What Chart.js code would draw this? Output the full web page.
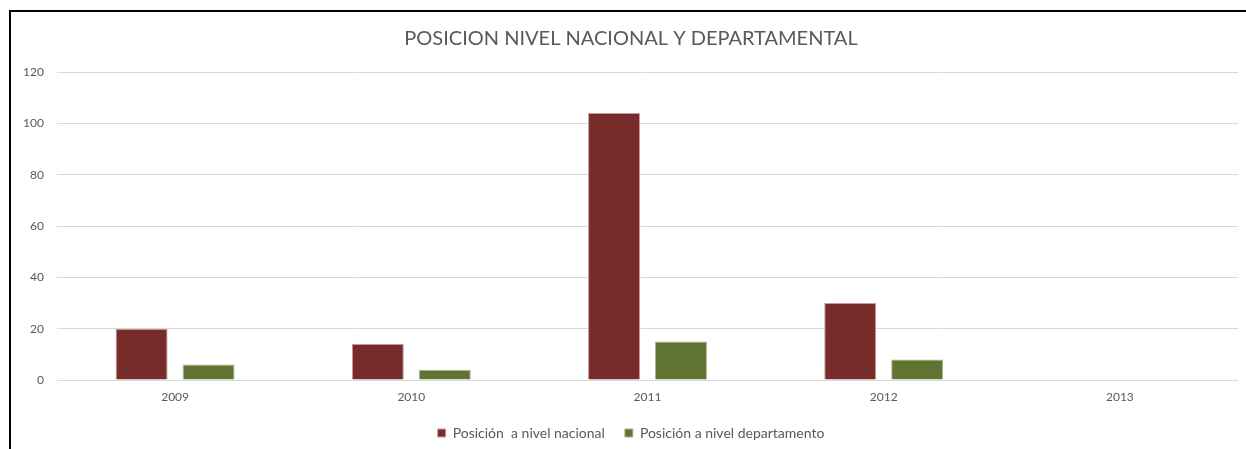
<!DOCTYPE html>
<html>
<head>
<meta charset="utf-8">
<script src="https://cdn.jsdelivr.net/npm/chart.js@4/dist/chart.umd.min.js"></script>
<style>
  html, body { margin: 0; padding: 0; background: #fff; }
  #wrap { position: relative; width: 1246px; height: 449px; }
  #frame {
    position: absolute; left: 9px; top: 10px; right: 0; bottom: 0;
    border-top: 2px solid #000; border-left: 2px solid #000;
    pointer-events: none;
  }
  canvas { position: absolute; left: 0; top: 0; }
</style>
</head>
<body>
<div id="wrap">
  <canvas id="chart" width="1246" height="449"></canvas>
  <div id="frame"></div>
</div>
<script>
const years        = ['2009', '2010', '2011', '2012', '2013'];
const nacional     = [20, 14, 104, 30, 0];
const departamento = [6, 4, 15, 8, 0];
const yTicks       = [0, 20, 40, 60, 80, 100, 120];

const textColor = '#595959';
const gridColor = '#d9d9d9';

new Chart(document.getElementById('chart'), {
  type: 'bar',
  data: {
    labels: years,
    datasets: [
      {
        label: 'Posición  a nivel nacional',
        data: nacional,
        backgroundColor: '#772b2b',
        borderColor: '#c89a9a',
        borderWidth: 1,
      },
      {
        label: 'Posición a nivel departamento',
        data: departamento,
        backgroundColor: '#617330',
        borderColor: '#a9b78a',
        borderWidth: 1,
      },
    ],
  },
  options: {
    responsive: false,
    animation: false,
    categoryPercentage: 0.567,
    barPercentage: 0.776,
    layout: { padding: { left: 24, right: 8, top: 0, bottom: -1 } },
    plugins: {
      title: {
        display: true,
        text: 'POSICION NIVEL NACIONAL Y DEPARTAMENTAL',
        color: textColor,
        font: { family: 'Lato', size: 20, weight: 'normal' },
        padding: { top: 27, bottom: 21 },
      },
      legend: {
        position: 'bottom',
        labels: {
          color: textColor,
          font: { family: 'Lato', size: 14 },
          boxWidth: 8,
          boxHeight: 8,
          padding: 20,
        },
      },
      tooltip: { enabled: false },
    },
    scales: {
      x: {
        afterFit: s => { s.height = 26; },
        grid: { display: false },
        border: { display: false },
        ticks: { color: textColor, font: { family: 'Lato', size: 12 }, padding: 2 },
      },
      y: {
        min: 0,
        max: 120,
        afterBuildTicks: s => { s.ticks = yTicks.map(v => ({ value: v })); },
        afterFit: s => { s.width = 33; },
        grid: { color: gridColor, drawTicks: false },
        border: { display: false },
        ticks: { color: textColor, font: { family: 'Lato', size: 12 }, padding: 13 },
      },
    },
  },
});
</script>
</body>
</html>
